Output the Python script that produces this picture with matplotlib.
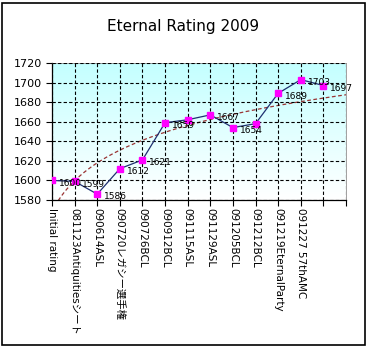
import numpy as np
import matplotlib.pyplot as plt

plt.rcParams['font.family'] = ['DejaVu Sans', 'Noto Sans CJK JP']

labels = ["Initial rating", "081123Antiquitiesシート", "090614ASL", "090720レガシー選手権",
          "090726BCL", "090912BCL", "091115ASL", "091129ASL", "091205BCL", "091212BCL",
          "091219EternalParty", "091227 57thAMC", ""]
rating = [1600, 1599, 1586, 1612, 1621, 1659, 1662, 1667, 1654, 1658, 1689, 1703, 1697]
show_label = [1, 1, 1, 1, 1, 1, 0, 1, 1, 0, 1, 1, 1]

x = np.arange(len(rating))

fig = plt.figure(figsize=(3.67, 3.5), dpi=100)
ax = fig.add_axes([52/367, 1-200/350, 294/367, 137/350])

# gradient background
grad = np.linspace(0, 1, 100).reshape(-1, 1)
cmap = plt.matplotlib.colors.LinearSegmentedColormap.from_list("bg", ["#ffffff", "#c4ffff"])
ax.imshow(grad, extent=[0, 13, 1580, 1720], origin='lower', aspect='auto', cmap=cmap, zorder=0)

# logarithmic trendline like excel
a, b = np.polyfit(np.log(x + 1), rating, 1)
xt = np.linspace(0, 13, 200)
ax.plot(xt, a*np.log(xt + 1) + b, color='#993333', lw=0.9, ls=(0, (3, 2)), zorder=2)

ax.plot(x, rating, color='#1f3070', lw=0.9, zorder=3)
ax.plot(x, rating, ls='none', marker='s', ms=5, color='#ff00ff', zorder=4)
for xi, r, s in zip(x, rating, show_label):
    if s:
        ax.annotate(str(r), (xi, r), xytext=(5, -2), textcoords='offset points',
                    fontsize=6.5, va='center', ha='left', zorder=5)

ax.set_xlim(0, 13)
ax.set_ylim(1580, 1720)
ax.set_yticks(range(1580, 1721, 20))
ax.set_xticks(range(0, 14))
ax.set_xticklabels(labels + [""], rotation=-90, fontsize=7.5, va='top', ha='center')
ax.tick_params(axis='y', labelsize=8, length=4, width=0.8)
ax.tick_params(axis='x', length=4, width=0.8, pad=2)
ax.grid(True, color='black', ls=(0, (3, 2)), lw=0.8)
ax.set_axisbelow(False)
for sp in ['top', 'right']:
    ax.spines[sp].set_color('#909090')
    ax.spines[sp].set_linewidth(0.6)
for sp in ['left', 'bottom']:
    ax.spines[sp].set_linewidth(0.9)

fig.text(0.5, 1-27/350, "Eternal Rating 2009", ha='center', va='center', fontsize=11)

# outer border
fig.patches.append(plt.Rectangle((2/367, 1-345/350), 363/367, 342/350, transform=fig.transFigure,
                                 fill=False, edgecolor='black', lw=1.2))

fig.savefig("out.png", dpi=100)
